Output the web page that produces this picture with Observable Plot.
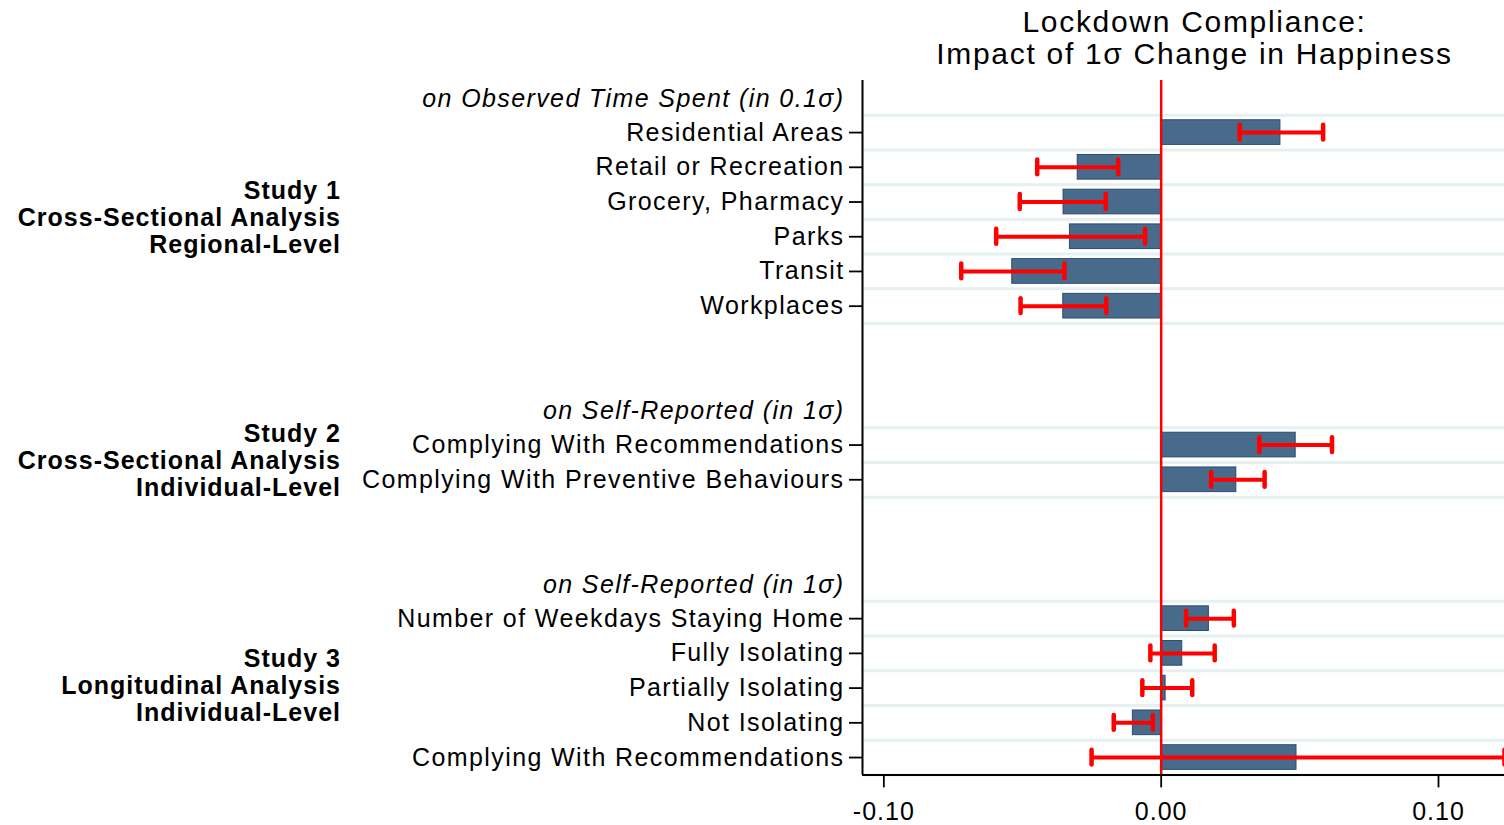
<!DOCTYPE html>
<html>
<head>
<meta charset="utf-8">
<script src="https://cdn.jsdelivr.net/npm/d3@7"></script>
<script src="https://cdn.jsdelivr.net/npm/@observablehq/plot@0.6"></script>
<style>
  html, body { margin: 0; padding: 0; background: #fff; overflow: hidden; }
  #chart svg { display: block; }
  #chart svg text { letter-spacing: 1.4px; }
  #chart svg g[font-size="30"] text { letter-spacing: 1.7px; }
  #chart svg g[font-weight="bold"] text { letter-spacing: 1px; }
  #chart svg g[aria-label="x-axis tick label"] text { letter-spacing: 1px; }
</style>
</head>
<body>
<div id="chart"></div>
<script>
// ---- data ----
const chartTitle = "Lockdown Compliance:\nImpact of 1σ Change in Happiness";
const studyTitles = [
  "Study 1\nCross-Sectional Analysis\nRegional-Level",
  "Study 2\nCross-Sectional Analysis\nIndividual-Level",
  "Study 3\nLongitudinal Analysis\nIndividual-Level"
];
const headers = [
  "on Observed Time Spent (in 0.1σ)",
  "on Self-Reported (in 1σ)",
  "on Self-Reported (in 1σ)"
];

const study1Labels = ["Residential Areas", "Retail or Recreation", "Grocery, Pharmacy", "Parks", "Transit", "Workplaces"];
const study1Est = [0.0430, -0.0301, -0.0352, -0.0329, -0.0537, -0.0353];
const study1Lo  = [0.0283, -0.0447, -0.0510, -0.0595, -0.0721, -0.0507];
const study1Hi  = [0.0584, -0.0155, -0.0200, -0.0058, -0.0349, -0.0198];

const study2Labels = ["Complying With Recommendations", "Complying With Preventive Behaviours"];
const study2Est = [0.0485, 0.0271];
const study2Lo  = [0.0354, 0.0180];
const study2Hi  = [0.0616, 0.0373];

const study3Labels = ["Number of Weekdays Staying Home", "Fully Isolating", "Partially Isolating", "Not Isolating", "Complying With Recommendations"];
const study3Est = [0.0172, 0.0076, 0.0016, -0.0102, 0.0488];
const study3Lo  = [0.0090, -0.0039, -0.0068, -0.0171, -0.0251];
const study3Hi  = [0.0262, 0.0193, 0.0112, -0.0030, 0.1238];

const xTicks = [-0.1, 0, 0.1];
const xDomain = [-0.1077, 0.1238];

// ---- build rows ----
const studies = [
  {title: studyTitles[0], header: headers[0], labels: study1Labels, est: study1Est, lo: study1Lo, hi: study1Hi},
  {title: studyTitles[1], header: headers[1], labels: study2Labels, est: study2Est, lo: study2Lo, hi: study2Hi},
  {title: studyTitles[2], header: headers[2], labels: study3Labels, est: study3Est, lo: study3Lo, hi: study3Hi}
];
const gapRows = 2;
const items = [], headerRows = [], groups = [], gridYs = [];
let r = 0;
studies.forEach(s => {
  headerRows.push({row: r, label: s.header});
  const first = r + 1;
  s.labels.forEach((lab, j) => items.push({row: first + j, label: lab, est: s.est[j], lo: s.lo[j], hi: s.hi[j]}));
  const last = first + s.labels.length - 1;
  for (let k = first; k <= last + 1; k++) gridYs.push(k - 0.5);
  groups.push({row: (first + last) / 2, label: s.title});
  r = last + 1 + gapRows;
});
const nRows = r - gapRows;
const yDomain = [-0.5, nRows - 0.5];
const labelByRow = new Map(items.map(d => [d.row, d.label]));
const caps = items.flatMap(d => [{row: d.row, v: d.lo}, {row: d.row, v: d.hi}]);

const barHalf = 0.355;
const capHalf = 0.213;

const plot = Plot.plot({
  width: 1504,
  height: 825,
  marginLeft: 862,
  marginRight: 0,
  marginTop: 80,
  marginBottom: 50.6,
  style: {fontFamily: "'Liberation Sans', Arial, sans-serif", background: "#fff", color: "#000", overflow: "visible"},
  x: {domain: xDomain, axis: null},
  y: {domain: yDomain, reverse: true, axis: null},
  marks: [
    Plot.ruleY(gridYs, {stroke: "#e6eff2", strokeWidth: 3}),
    Plot.rect(items, {
      x1: () => 0, x2: "est",
      y1: d => d.row - barHalf, y2: d => d.row + barHalf,
      fill: "#486a8b", stroke: "#2b4c6f", strokeWidth: 1
    }),
    Plot.ruleY(items, {y: "row", x1: "lo", x2: "hi", stroke: "#ff0000", strokeWidth: 4, clip: true}),
    Plot.ruleX(caps, {
      x: "v", y1: d => d.row - capHalf, y2: d => d.row + capHalf,
      stroke: "#ff0000", strokeWidth: 4.5, strokeLinecap: "round", clip: true
    }),
    Plot.ruleX([0], {stroke: "#ff0000", strokeWidth: 2.5}),
    Plot.ruleX([xDomain[0]], {stroke: "#000", strokeWidth: 2}),
    Plot.ruleY([yDomain[1]], {stroke: "#000", strokeWidth: 2}),
    Plot.axisY(items.map(d => d.row), {
      anchor: "left", tickFormat: v => labelByRow.get(v),
      tickSize: 13, tickPadding: 5, fontSize: 25, strokeWidth: 1.8, label: null
    }),
    Plot.text(headerRows, {
      y: "row", text: "label", frameAnchor: "left", textAnchor: "end",
      dx: -18, dy: 1, fontSize: 25, fontStyle: "italic"
    }),
    Plot.text(groups, {
      y: "row", text: "label", frameAnchor: "left", textAnchor: "end",
      dx: -521.5, dy: -2.5, fontSize: 25, fontWeight: "bold", lineHeight: 1.08
    }),
    Plot.axisX(xTicks, {
      anchor: "bottom", tickFormat: d => d.toFixed(2),
      tickSize: 13, tickPadding: 14, fontSize: 25, strokeWidth: 1.8, label: null
    }),
    Plot.text([chartTitle], {
      frameAnchor: "top", dx: 11, dy: -71.5, lineAnchor: "top",
      fontSize: 30, lineHeight: 1.08
    })
  ]
});
document.getElementById("chart").appendChild(plot);
</script>
</body>
</html>
